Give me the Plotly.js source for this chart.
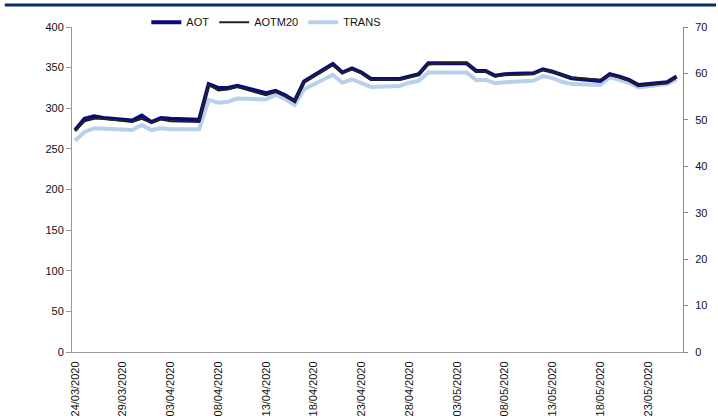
<!DOCTYPE html>
<html>
<head>
<meta charset="utf-8">
<script src="https://cdn.plot.ly/plotly-3.0.1.min.js"></script>
<style>html,body{margin:0;padding:0;background:#fff;}#chart{width:718px;height:419px;}</style>
</head>
<body>
<div id="chart"></div>
<script>
const dates = ["2020-03-24","2020-03-25","2020-03-26","2020-03-27","2020-03-30","2020-03-31","2020-04-01","2020-04-02","2020-04-03","2020-04-06","2020-04-07","2020-04-08","2020-04-09","2020-04-10","2020-04-13","2020-04-14","2020-04-15","2020-04-16","2020-04-17","2020-04-20","2020-04-21","2020-04-22","2020-04-23","2020-04-24","2020-04-27","2020-04-28","2020-04-29","2020-04-30","2020-05-01","2020-05-04","2020-05-05","2020-05-06","2020-05-07","2020-05-08","2020-05-11","2020-05-12","2020-05-13","2020-05-14","2020-05-15","2020-05-18","2020-05-19","2020-05-20","2020-05-21","2020-05-22","2020-05-25","2020-05-26"];
const aot = [273,287,290,288,285,291,283,288,287,286,329.5,325,325,327.5,318.5,321.5,316,309,333,354.5,344,349,344,336,336,339.5,342,355.5,355.5,355.5,346,346,340,342,343,348,345,341,337,333.5,342,339,335,328.5,332,339];
const aotm20 = [272,284,287,287,283,287,282,286,284,283,329,322,323,326,316,320,315,309,332,353,344,348,343,335,335,338,342,354,355,356,345,345,339,341,342,347,345,341,338,335,341,338,334,328,331,338];
const trans = [45.5,47.4,48.2,48.1,47.8,48.9,47.8,48.2,48.0,48.0,54.3,53.7,53.9,54.6,54.4,55.4,54.5,53.2,56.6,59.7,58.0,58.7,57.9,57.1,57.3,58.0,58.4,60.2,60.2,60.2,58.6,58.6,57.9,58.1,58.4,59.4,59.0,58.2,57.7,57.5,59.2,58.6,58.0,57.0,57.7,58.7];
const tickDates = ["2020-03-24","2020-03-29","2020-04-03","2020-04-08","2020-04-13","2020-04-18","2020-04-23","2020-04-28","2020-05-03","2020-05-08","2020-05-13","2020-05-18","2020-05-23"];
const tickLabels = ["24/03/2020","29/03/2020","03/04/2020","08/04/2020","13/04/2020","18/04/2020","23/04/2020","28/04/2020","03/05/2020","08/05/2020","13/05/2020","18/05/2020","23/05/2020"];

const font = {family: "Liberation Sans, Arial, sans-serif", size: 11, color: "#111"};

const traces = [
  {x: dates, y: trans, name: "TRANS", type: "scatter", mode: "lines", yaxis: "y",
   line: {color: "#b8d0ea", width: 4}, legendrank: 3},
  {x: dates, y: aot, name: "AOT", type: "scatter", mode: "lines", yaxis: "y2",
   line: {color: "#0a0a80", width: 4}, legendrank: 1},
  {x: dates, y: aotm20, name: "AOTM20", type: "scatter", mode: "lines", yaxis: "y2",
   line: {color: "#222222", width: 2}, legendrank: 2}
];

const layout = {
  width: 718, height: 419,
  margin: {l: 72, r: 35, t: 27, b: 67, autoexpand: false},
  paper_bgcolor: "#fff", plot_bgcolor: "#fff",
  font: font,
  showlegend: true,
  legend: {orientation: "h", x: 0.318, xanchor: "center", y: 1.015, yanchor: "middle",
           font: font, itemwidth: 30, tracegroupgap: 0, bgcolor: "rgba(0,0,0,0)"},
  xaxis: {type: "date", range: ["2020-03-23 16:30", "2020-05-26 16:00"],
          tickmode: "array", tickvals: tickDates, ticktext: tickLabels,
          tickangle: -90, showgrid: false, zeroline: false,
          showline: true, linecolor: "#999", linewidth: 1,
          ticks: "", ticklabelstandoff: 4, tickfont: font},
  yaxis: {range: [0, 70], side: "right", dtick: 10, showgrid: false, zeroline: false,
          showline: true, linecolor: "#888", linewidth: 1, ticks: "outside", ticklen: 4,
          tickcolor: "#888", ticklabelstandoff: 5, tickfont: font, fixedrange: true},
  yaxis2: {range: [0, 400], side: "left", overlaying: "y", dtick: 50, showgrid: false, zeroline: false,
           showline: true, linecolor: "#999", linewidth: 1, ticks: "outside", ticklen: 5,
           tickcolor: "#999", tickfont: font},
  shapes: [
    {type: "line", xref: "paper", yref: "paper", x0: -0.11, x1: 1.054, y0: 1.068, y1: 1.068,
     line: {color: "#0b2a6b", width: 3}}
  ]
};

Plotly.newPlot("chart", traces, layout, {displayModeBar: false, staticPlot: true});
</script>
</body>
</html>
